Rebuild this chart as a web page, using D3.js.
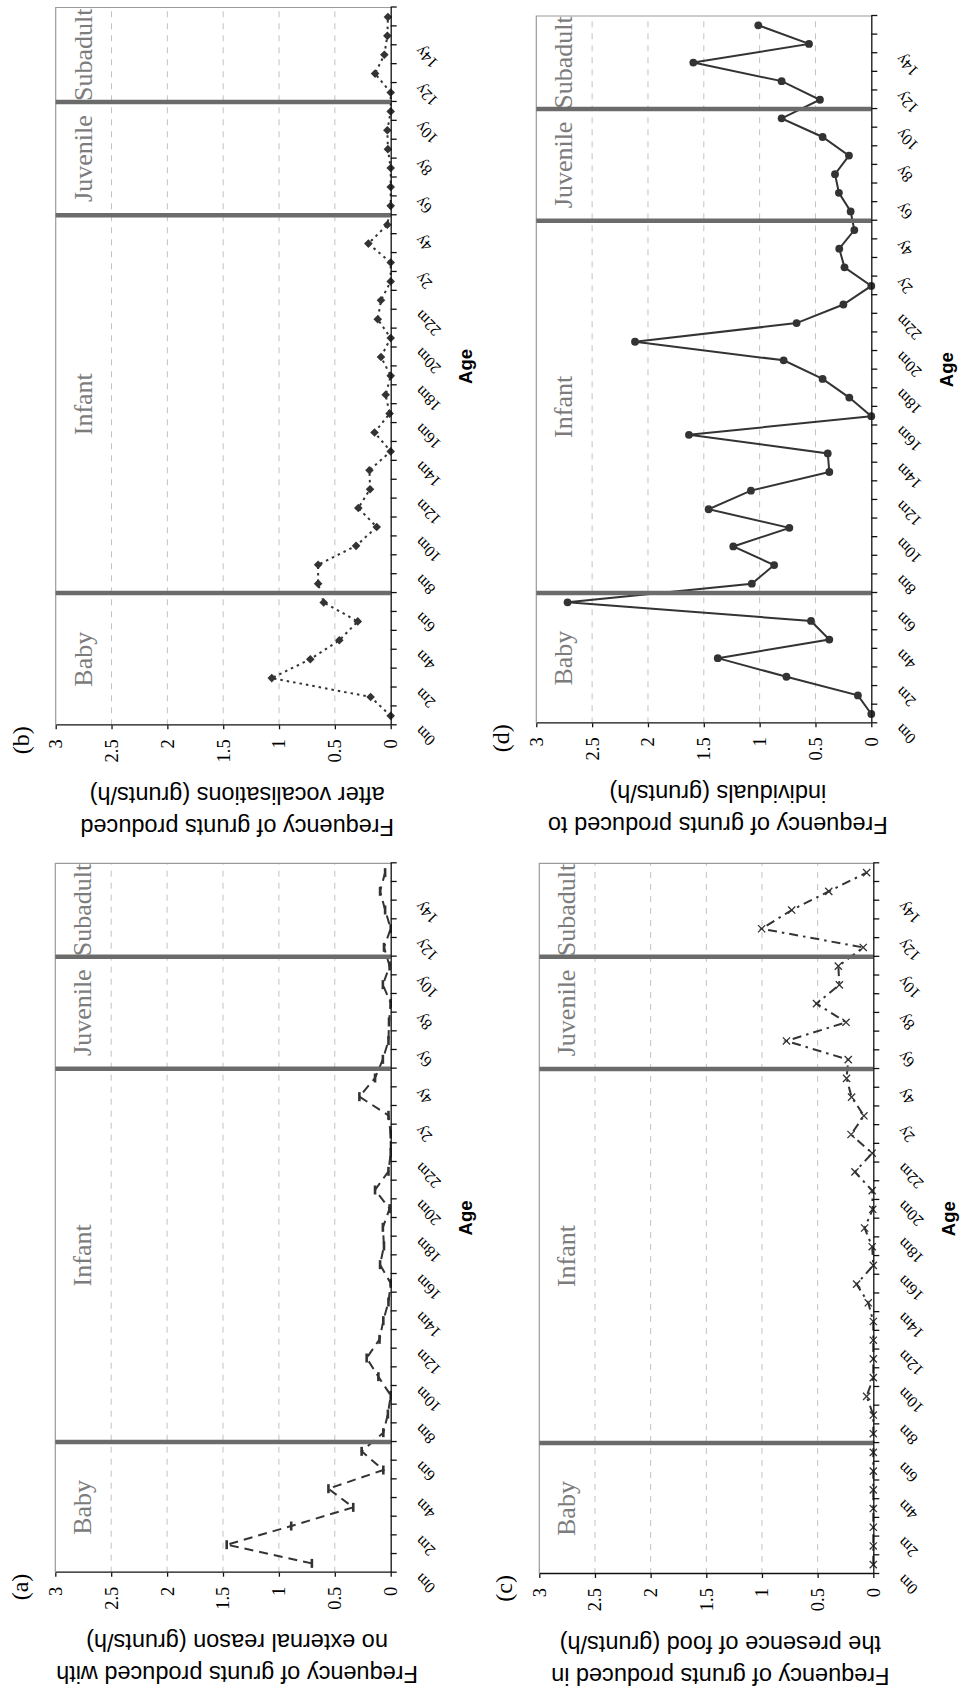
<!DOCTYPE html>

<head>
    <meta charset="utf-8">
    <title>Grunts by age</title>
    <script type="text/javascript" src="https://d3js.org/d3.v7.min.js"></script>
    <style>
        body { margin: 0; background: #fff; }
        svg { display: block; }
        .serif { font-family: "Liberation Serif", "Times New Roman", serif; }
        .sans { font-family: "Liberation Sans", Arial, sans-serif; }
    </style>
</head>

<body>
    <div id="container"></div>
    <script>
        //------------------------1. DATA------------------------//
        var ages = ["0m", "1m", "2m", "3m", "4m", "5m", "6m", "7m", "8m", "9m", "10m", "11m",
            "12m", "13m", "14m", "15m", "16m", "17m", "18m", "19m", "20m", "21m", "22m", "23m",
            "2y", "3y", "4y", "5y", "6y", "7y", "8y", "9y", "10y", "11y", "12y", "13y", "14y", "15y"]

        // (a) grunts with no external reason
        var noReason = [0.705, 1.467, 0.89, 0.335, 0.557, 0.066, 0.26, 0.066, 0.025, 0, 0.11, 0.215,
            0.10, 0.066, 0.02, 0, 0.095, 0.06, 0.07, 0.01, 0.14, 0.02, 0, 0,
            0.02, 0.28, 0.14, 0.07, 0.02, 0.015, 0, 0.07, 0.01, 0.06, 0, 0.05, 0.095, 0.05]

        // (b) grunts after vocalisations
        var afterVocal = [0, 0.18, 1.065, 0.72, 0.46, 0.295, 0.60, 0.65, 0.65, 0.31, 0.125, 0.29,
            0.185, 0.19, 0, 0.145, 0.01, 0.045, 0, 0.087, 0, 0.116, 0.087, 0,
            0, 0.2, 0.03, 0, 0, 0, 0.025, 0.03, 0, 0, 0.14, 0.057, 0.03, 0.025]

        // (c) grunts in the presence of food
        var inFood = [0, 0, 0, 0, 0, 0, 0, 0, 0, 0.06, 0, 0,
            0, 0, 0.045, 0.15, 0, 0.01, 0.078, 0.005, 0.01, 0.165, 0.01, 0.2,
            0.084, 0.195, 0.24, 0.225, 0.78, 0.245, 0.51, 0.305, 0.314, 0.09, 1.003, 0.733, 0.40, 0.06]

        // (d) grunts produced to individuals
        var toIndividuals = [0, 0.12, 0.76, 1.375, 0.376, 0.54, 2.72, 1.07, 0.87, 1.236, 0.734, 1.457,
            1.078, 0.376, 0.39, 1.633, 0, 0.197, 0.436, 0.785, 2.116, 0.669, 0.25, 0,
            0.24, 0.287, 0.152, 0.185, 0.29, 0.325, 0.2, 0.436, 0.803, 0.46, 0.803, 1.594, 0.558, 1.012]

        var stageNames = ["Baby", "Infant", "Juvenile", "Subadult"]
        var stageBounds = [0, 7, 27, 33, 38]   // in age-category units
        var valueTicks = [0, 0.5, 1, 1.5, 2, 2.5, 3]

        //------------------------2. LAYOUT (unrotated figure)------------------------//
        // the figure is drawn landscape and then turned a quarter turn counter-clockwise
        var W = 1695, H = 960,
            ink = "#333",
            panels = [
                { tag: "(a)", values: noReason, marker: "dash", dash: "9,6",
                    title: ["Frequency of grunts produced with", "no external reason (grunts/h)"],
                    x0: 122.3, x1: 831.7, y0: 55.3, y1: 390.7 },
                { tag: "(b)", values: afterVocal, marker: "diamond", dash: "2.5,4",
                    title: ["Frequency of grunts produced", "after vocalisations (grunts/h)"],
                    x0: 969.7, x1: 1687.5, y0: 55.7, y1: 390.7 },
                { tag: "(c)", values: inFood, marker: "cross", dash: "9,5,2.5,5",
                    title: ["Frequency of grunts produced in", "the presence of food (grunts/h)"],
                    x0: 121, x1: 831.7, y0: 539.3, y1: 873.3 },
                { tag: "(d)", values: toIndividuals, marker: "circle", dash: null,
                    title: ["Frequency of grunts produced to", "individuals (grunts/h)"],
                    x0: 971.7, x1: 1679, y0: 536.3, y1: 871.3 }
            ]

        var svg = d3.select("div#container").append("svg")
            .attr("width", H).attr("height", W)
        var fig = svg.append("g")
            .attr("transform", "translate(0," + W + ") rotate(-90)")

        //------------------------3. DRAW------------------------//
        panels.forEach(function (p) {
            var x = d3.scaleLinear().domain([0, ages.length]).range([p.x0, p.x1]),
                y = d3.scaleLinear().domain([0, 3]).range([p.y1, p.y0]),
                g = fig.append("g")

            // dashed gridlines
            g.selectAll(".grid").data(valueTicks.slice(1, -1)).enter().append("line")
                .attr("x1", p.x0).attr("x2", p.x1)
                .attr("y1", function (d) { return y(d); })
                .attr("y2", function (d) { return y(d); })
                .attr("stroke", "#c2c2c2").attr("stroke-width", 1)
                .attr("stroke-dasharray", "6,6")

            // plot area frame (top and right)
            g.append("path")
                .attr("d", "M" + p.x0 + "," + y(3) + "H" + p.x1 + "V" + y(0))
                .attr("fill", "none").attr("stroke", "#9a9a9a").attr("stroke-width", 1.2)

            // series line
            var line = d3.line()
                .x(function (d, i) { return x(i + 0.5); })
                .y(function (d) { return y(d); })
            g.append("path").datum(p.values)
                .attr("d", line)
                .attr("fill", "none").attr("stroke", ink).attr("stroke-width", 2)
                .attr("stroke-dasharray", p.dash)

            // markers
            var pts = g.selectAll(".pt").data(p.values).enter().append("g")
                .attr("transform", function (d, i) { return "translate(" + x(i + 0.5) + "," + y(d) + ")"; })
            if (p.marker == "circle") {
                pts.append("circle").attr("r", 3.9).attr("fill", ink)
            } else if (p.marker == "diamond") {
                pts.append("path").attr("d", "M0,-4.3L4.3,0L0,4.3L-4.3,0Z").attr("fill", ink)
            } else if (p.marker == "cross") {
                pts.append("path").attr("d", "M-3.6,-3.6L3.6,3.6M-3.6,3.6L3.6,-3.6")
                    .attr("stroke", ink).attr("stroke-width", 1.3)
            } else {
                pts.append("path").attr("d", "M-4.5,0H4.5")
                    .attr("stroke", ink).attr("stroke-width", 2.6)
            }

            // life-stage dividers and names
            g.selectAll(".stage").data(stageBounds.slice(1, -1)).enter().append("line")
                .attr("x1", function (d) { return x(d); })
                .attr("x2", function (d) { return x(d); })
                .attr("y1", y(3)).attr("y2", y(0))
                .attr("stroke", "#6b6b6b").attr("stroke-width", 4.5)

            g.selectAll(".stageName").data(stageNames).enter().append("text")
                .attr("class", "serif")
                .attr("x", function (d, i) { return x((stageBounds[i] + stageBounds[i + 1]) / 2); })
                .attr("y", p.y0 + 36)
                .attr("text-anchor", "middle")
                .attr("font-size", 26).attr("fill", "#7c7c7c")
                .text(function (d) { return d; })

            //-----------------------------AXES-----------------------------//
            var yAxis = g.append("g")
                .attr("transform", "translate(" + p.x0 + ",0)")
                .call(d3.axisLeft(y).tickValues(valueTicks).tickSize(4).tickSizeOuter(0)
                    .tickPadding(10).tickFormat(function (d) { return d; }))
            yAxis.selectAll("text").attr("class", "serif").attr("font-size", 18.5).attr("fill", "#000")

            g.append("g")
                .attr("transform", "translate(0," + p.y1 + ")")
                .call(d3.axisBottom(x).tickValues(d3.range(ages.length + 1)).tickSize(6)
                    .tickSizeOuter(0).tickFormat(""))

            g.selectAll("path.domain, .tick line").attr("stroke", "#111").attr("stroke-width", 1.3)

            // age labels on every second category, slanted
            g.selectAll(".age").data(ages).enter()
                .filter(function (d, i) { return i % 2 == 0; })
                .append("text")
                .attr("class", "serif")
                .attr("transform", function (d) {
                    return "translate(" + (x(ages.indexOf(d) + 0.5) - 9) + "," + (p.y1 + 31) + ") rotate(-45)";
                })
                .attr("text-anchor", "end").attr("font-size", 16)
                .text(function (d) { return d; })

            // axis titles
            g.append("text")
                .attr("class", "sans")
                .attr("x", (p.x0 + p.x1) / 2).attr("y", p.y1 + 75)
                .attr("dy", "0.35em").attr("text-anchor", "middle")
                .attr("font-size", 18.5).attr("font-weight", "bold")
                .text("Age")

            g.selectAll(".ytitle").data(p.title).enter().append("text")
                .attr("class", "sans")
                .attr("transform", function (d, i) {
                    return "translate(" + (p.x0 - 102 + i * 32) + "," + ((p.y0 + p.y1) / 2 + 14) + ") rotate(-90)";
                })
                .attr("dy", "0.35em").attr("text-anchor", "middle")
                .attr("font-size", 23.5)
                .text(function (d) { return d; })

            // panel letter
            g.append("text")
                .attr("class", "serif")
                .attr("x", p.x0 - 1).attr("y", p.y0 - 27)
                .attr("text-anchor", "end").attr("font-size", 24)
                .text(p.tag)
        })
    </script>
</body>
